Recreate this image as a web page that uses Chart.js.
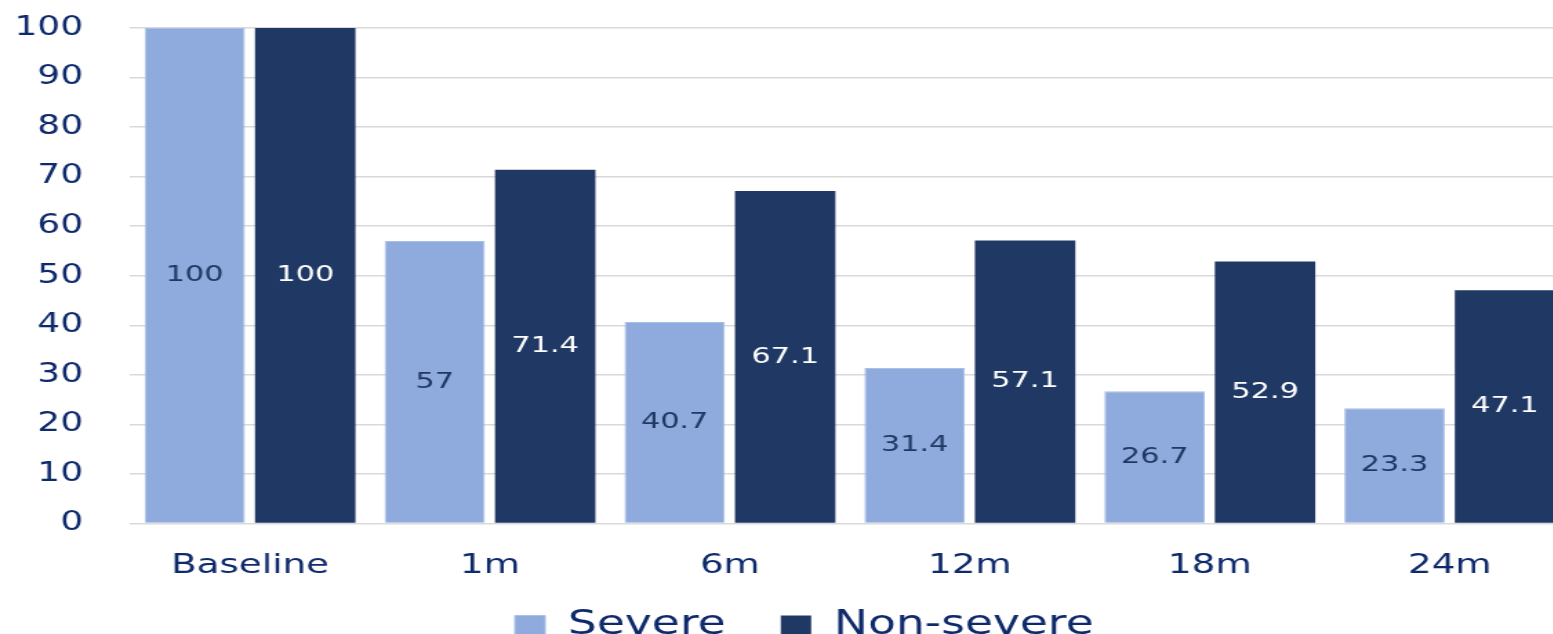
<!DOCTYPE html>
<html>
<head>
<meta charset="utf-8">
<script src="https://cdn.jsdelivr.net/npm/chart.js@4/dist/chart.umd.min.js"></script>
<style>
  html, body { margin: 0; padding: 0; background: #ffffff; overflow: hidden; }
  #frame { width: 1553px; height: 634px; overflow: hidden; position: relative; }
  #stretch { position: absolute; left: 0; top: 0; transform: scaleX(1.38); transform-origin: 0 0; }
  canvas { display: block; }
</style>
</head>
<body>
<div id="frame"><div id="stretch"><canvas id="chart" width="1165" height="691"></canvas></div></div>
<script>
// Time points and the share (%) of each group at every follow-up visit
const categories = ['Baseline', '1m', '6m', '12m', '18m', '24m'];
const severeValues = [100, 57, 40.7, 31.4, 26.7, 23.3];
const nonSevereValues = [100, 71.4, 67.1, 57.1, 52.9, 47.1];
const yTicks = [0, 10, 20, 30, 40, 50, 60, 70, 80, 90, 100];

const LIGHT = '#8FAADC';
const DARK = '#203864';
const INK = '#0E2A6B';
const FONT = "'DejaVu Sans', Verdana, sans-serif";

// Writes each bar's value in the middle of the bar
const barValueLabels = {
  id: 'barValueLabels',
  afterDatasetsDraw(chart) {
    const ctx = chart.ctx;
    ctx.save();
    ctx.font = '22px ' + FONT;
    ctx.textAlign = 'center';
    ctx.textBaseline = 'middle';
    chart.data.datasets.forEach((ds, di) => {
      const meta = chart.getDatasetMeta(di);
      meta.data.forEach((bar, i) => {
        ctx.fillStyle = ds.labelColor;
        ctx.fillText(String(ds.data[i]), bar.x, (bar.y + bar.base) / 2);
      });
    });
    ctx.restore();
  }
};

// Moves the legend row a little right and up, closer under the axis labels
const legendShift = {
  id: 'legendShift',
  afterLayout(chart) {
    const lg = chart.legend;
    if (lg) {
      lg.left += 14;
      lg.right += 14;
      lg.top -= 39;
      lg.bottom -= 39;
    }
  }
};

new Chart(document.getElementById('chart'), {
  type: 'bar',
  data: {
    labels: categories,
    datasets: [
      {
        label: 'Severe',
        data: severeValues,
        backgroundColor: LIGHT,
        borderColor: '#A9BFE6',
        borderWidth: 1,
        labelColor: '#1F3864'
      },
      {
        label: 'Non-severe',
        data: nonSevereValues,
        backgroundColor: DARK,
        borderColor: DARK,
        borderWidth: 0,
        labelColor: '#FFFFFF'
      }
    ]
  },
  options: {
    responsive: false,
    animation: false,
    devicePixelRatio: 1,
    layout: { padding: { top: 28, right: 27.5, left: 0, bottom: 0 } },
    datasets: {
      bar: { categoryPercentage: 0.921, barPercentage: 0.909 }
    },
    scales: {
      x: {
        grid: { display: false, drawTicks: false },
        border: { display: false },
        ticks: { color: INK, font: { family: FONT, size: 27 }, padding: 26 }
      },
      y: {
        min: 0,
        max: 100,
        afterBuildTicks(scale) { scale.ticks = yTicks.map(v => ({ value: v })); },
        grid: { color: '#D9D9D9', lineWidth: 1.5, drawTicks: false },
        border: { display: false },
        ticks: { color: INK, font: { family: FONT, size: 26 }, padding: 34 },
        afterFit(scale) {
          scale.width = 94.2;
          scale.paddingTop = 0;
          scale.paddingBottom = 0;
        }
      }
    },
    plugins: {
      legend: {
        position: 'bottom',
        labels: {
          color: INK,
          font: { family: FONT, size: 33 },
          boxWidth: 22,
          boxHeight: 20,
          padding: 40
        }
      },
      tooltip: { enabled: false }
    }
  },
  plugins: [barValueLabels, legendShift]
});
</script>
</body>
</html>
